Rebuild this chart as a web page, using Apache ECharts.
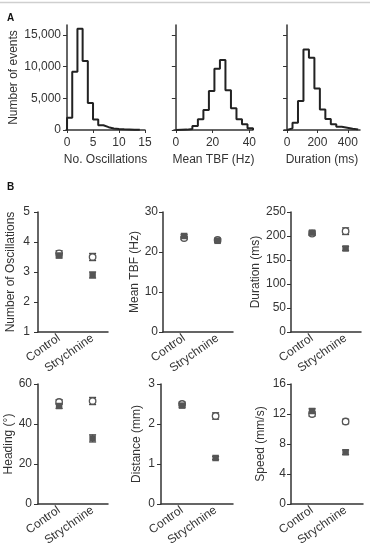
<!DOCTYPE html>
<html>
<head>
<meta charset="utf-8">
<script src="https://cdn.jsdelivr.net/npm/echarts@6/dist/echarts.min.js"></script>
<style>
  html, body { margin: 0; padding: 0; background: #fff; }
  #chart { width: 370px; height: 551px; }
</style>
</head>
<body>
<div id="chart"></div>
<script>
// A: histograms (counts per bin)
const oscBinWidth = 1;
const oscCounts = [1950, 9200, 16000, 10900, 4250, 1650, 750, 450, 250, 160, 110, 80, 50, 30];
const tbfBinWidth = 3;
const tbfCounts = [30, 60, 150, 630, 1680, 3160, 6160, 9700, 11050, 6300, 3420, 1680, 890, 260];
const durBinWidth = 36;
const durCounts = [260, 1160, 4580, 12740, 11420, 6580, 3260, 1740, 890, 530, 370, 210, 100];
const histYTicks = [0, 5000, 10000, 15000];

// B: group means (open = white marker, filled = grey marker) and SEM
const groups = ["Control", "Strychnine"];
const oscOpen = [3.62, 3.5], oscOpenSem = [0.09, 0.12];
const oscFilled = [3.55, 2.9], oscFilledSem = [0.08, 0.1];
const tbfOpen = [23.5, 23.0], tbfOpenSem = [0.4, 0.4];
const tbfFilled = [24.0, 22.8], tbfFilledSem = [0.4, 0.4];
const durOpen = [205, 210], durOpenSem = [4, 7];
const durFilled = [207, 174], durFilledSem = [4, 4];
const headOpen = [51, 51.5], headOpenSem = [1.2, 1.8];
const headFilled = [49, 32.8], headFilledSem = [1.2, 1.8];
const distOpen = [2.5, 2.2], distOpenSem = [0.05, 0.08];
const distFilled = [2.46, 1.15], distFilledSem = [0.05, 0.04];
const speedOpen = [12.0, 11.0], speedOpenSem = [0.3, 0.3];
const speedFilled = [12.4, 6.9], speedFilledSem = [0.3, 0.3];

const FONT = "Liberation Sans";
const INK = "#333";

const chart = echarts.init(document.getElementById("chart"));

function histPoints(counts, w) {
  const pts = [[0, 0]];
  counts.forEach((c, i) => pts.push([i * w, c]));
  pts.push([counts.length * w, 0]);
  return pts;
}

const grids = [];
const xAxes = [];
const yAxes = [];
const series = [];

const axisLine = { show: true, lineStyle: { color: INK, width: 1.5 } };

// histogram panels (small negative min keeps 0 off the y axis, like the original)
const hists = [
  { left: 66, width: 79, min: -0.2, max: 15, ticks: [0, 5, 10, 15], name: "No. Oscillations", counts: oscCounts, w: oscBinWidth, yLabel: true },
  { left: 174, width: 79, min: -1, max: 42, ticks: [0, 20, 40], name: "Mean TBF (Hz)", counts: tbfCounts, w: tbfBinWidth, yLabel: false },
  { left: 284, width: 76, min: -20, max: 480, ticks: [0, 200, 400], name: "Duration (ms)", counts: durCounts, w: durBinWidth, yLabel: false },
];
hists.forEach((h, i) => {
  grids.push({ left: h.left, top: 25, width: h.width, height: 105 });
  xAxes.push({
    gridIndex: i, type: "value", min: h.min, max: h.max,
    axisLine, splitLine: { show: false },
    axisTick: { show: true, length: 3, lineStyle: { color: INK }, customValues: h.ticks },
    axisLabel: { color: INK, fontFamily: FONT, fontSize: 12, margin: 7, customValues: h.ticks },
    name: h.name, nameLocation: "middle", nameGap: 24,
    nameTextStyle: { color: INK, fontFamily: FONT, fontSize: 12 },
  });
  yAxes.push({
    gridIndex: i, type: "value", min: 0, max: 16600,
    axisLine, splitLine: { show: false },
    axisTick: { show: true, length: 4, lineStyle: { color: INK }, customValues: histYTicks },
    axisLabel: {
      show: h.yLabel, color: INK, fontFamily: FONT, fontSize: 12, margin: 5,
      customValues: histYTicks, formatter: (v) => v.toLocaleString("en-US"),
    },
    name: h.yLabel ? "Number of events" : "", nameLocation: "middle", nameGap: 46,
    nameTextStyle: { color: INK, fontFamily: FONT, fontSize: 12 },
  });
  series.push({
    type: "line", xAxisIndex: i, yAxisIndex: i, step: "end",
    showSymbol: false, silent: true,
    lineStyle: { color: "#222", width: 2 },
    data: histPoints(h.counts, h.w),
  });
});

// summary panels
const panels = [
  { left: 38, top: 212, width: 70, name: "Number of Oscillations", gap: 21, margin: 8, min: 1, max: 5, interval: 1, open: oscOpen, openSem: oscOpenSem, filled: oscFilled, filledSem: oscFilledSem },
  { left: 163, top: 212, width: 70, name: "Mean TBF (Hz)", gap: 21, margin: 5, min: 0, max: 30, interval: 10, open: tbfOpen, openSem: tbfOpenSem, filled: tbfFilled, filledSem: tbfFilledSem },
  { left: 291, top: 212, width: 70, name: "Duration (ms)", gap: 26, margin: 5, min: 0, max: 250, interval: 50, open: durOpen, openSem: durOpenSem, filled: durFilled, filledSem: durFilledSem },
  { left: 38, top: 384, width: 70, name: "Heading (°)", gap: 21, margin: 6, min: 0, max: 60, interval: 20, open: headOpen, openSem: headOpenSem, filled: headFilled, filledSem: headFilledSem },
  { left: 161, top: 384, width: 72, name: "Distance (mm)", gap: 18, margin: 6, min: 0, max: 3, interval: 1, open: distOpen, openSem: distOpenSem, filled: distFilled, filledSem: distFilledSem },
  { left: 291, top: 384, width: 72, name: "Speed (mm/s)", gap: 24, margin: 5, min: 0, max: 16, interval: 4, open: speedOpen, openSem: speedOpenSem, filled: speedFilled, filledSem: speedFilledSem },
];

function errorBars(values, sems) {
  return values.map((v, i) => [i + 1, v, sems[i]]);
}

function renderError(params, api) {
  const x = api.value(0), y = api.value(1), e = api.value(2);
  const lo = api.coord([x, y - e]);
  const hi = api.coord([x, y + e]);
  const cap = 3.5;
  const style = { stroke: "#444", lineWidth: 1.2 };
  return {
    type: "group",
    children: [
      { type: "line", shape: { x1: lo[0], y1: lo[1], x2: hi[0], y2: hi[1] }, style },
      { type: "line", shape: { x1: lo[0] - cap, y1: lo[1], x2: lo[0] + cap, y2: lo[1] }, style },
      { type: "line", shape: { x1: hi[0] - cap, y1: hi[1], x2: hi[0] + cap, y2: hi[1] }, style },
    ],
  };
}

panels.forEach((p, k) => {
  const gi = 3 + k;
  const xMin = 0.37;
  const xMax = xMin + p.width / 33.5;
  grids.push({ left: p.left, top: p.top, width: p.width, height: 120 });
  xAxes.push({
    gridIndex: gi, type: "value", min: xMin, max: xMax,
    axisLine, splitLine: { show: false }, axisTick: { show: false },
    axisLabel: {
      color: INK, fontFamily: FONT, fontSize: 12, margin: 5, rotate: 35,
      customValues: [1, 2], formatter: (v) => groups[Math.round(v) - 1],
    },
  });
  yAxes.push({
    gridIndex: gi, type: "value", min: p.min, max: p.max, interval: p.interval,
    axisLine, splitLine: { show: false },
    axisTick: { show: true, length: 4, lineStyle: { color: INK } },
    axisLabel: { color: INK, fontFamily: FONT, fontSize: 12, margin: p.margin },
    name: p.name, nameLocation: "middle", nameGap: p.gap,
    nameTextStyle: { color: INK, fontFamily: FONT, fontSize: 12 },
  });
  series.push(
    { type: "custom", xAxisIndex: gi, yAxisIndex: gi, renderItem: renderError, data: errorBars(p.open, p.openSem), z: 2, silent: true },
    { type: "custom", xAxisIndex: gi, yAxisIndex: gi, renderItem: renderError, data: errorBars(p.filled, p.filledSem), z: 2, silent: true },
    {
      type: "scatter", xAxisIndex: gi, yAxisIndex: gi, symbol: "circle", symbolSize: 6.5, z: 3,
      itemStyle: { color: "#fff", borderColor: "#555", borderWidth: 1.3, opacity: 1 },
      data: p.open.map((v, i) => [i + 1, v]),
    },
    {
      type: "scatter", xAxisIndex: gi, yAxisIndex: gi, symbol: "rect", symbolSize: 6.5, z: 4,
      itemStyle: { color: "#555", opacity: 1 },
      data: p.filled.map((v, i) => [i + 1, v]),
    }
  );
});

chart.setOption({
  animation: false,
  backgroundColor: "#fff",
  textStyle: { fontFamily: FONT },
  grid: grids,
  xAxis: xAxes,
  yAxis: yAxes,
  series: series,
  graphic: [
    { type: "line", shape: { x1: 0, y1: 2.5, x2: 370, y2: 2.5 }, style: { stroke: "#cfcfcf", lineWidth: 1.5 } },
    { type: "text", left: 7, top: 13, style: { text: "A", font: "bold 10px " + FONT, fill: "#111" } },
    { type: "text", left: 7, top: 182, style: { text: "B", font: "bold 10px " + FONT, fill: "#111" } },
  ],
});
</script>
</body>
</html>
